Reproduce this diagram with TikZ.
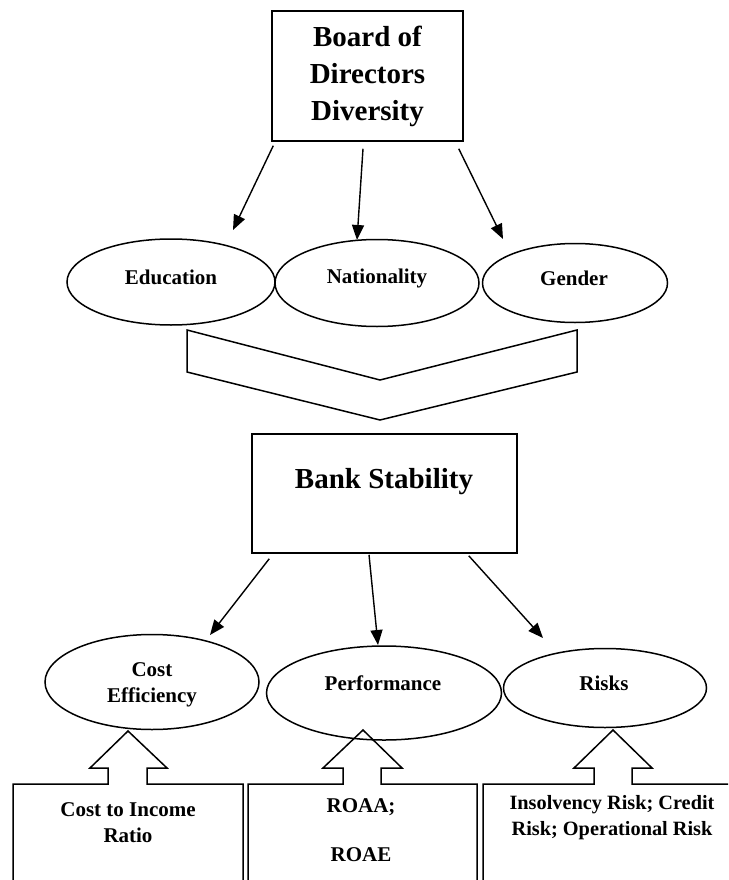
\documentclass[tikz,border=0pt]{standalone}
\usepackage{fontspec}
\setmainfont{Liberation Serif}
\usetikzlibrary{arrows.meta,shapes.geometric,calc}

\begin{document}
\begin{tikzpicture}[x=1pt,y=-1pt,
  line width=1.5pt,
  conn/.style={draw, line width=1.4pt, -{Triangle[length=15pt,width=12pt]}},
  ell/.style={draw, ellipse, inner sep=0pt},
  bigtxt/.style={font=\fontsize{29}{37}\selectfont\bfseries, align=center},
  txt/.style={font=\fontsize{21}{26}\selectfont\bfseries, align=center, inner sep=0pt},
  blockshape/.style={draw, line join=miter}
]
\useasboundingbox (0,0) rectangle (728,880);
\fill[white] (0,0) rectangle (728,880);
\clip (0,0) rectangle (728,880);

% top box
\node[draw, rectangle, minimum width=191pt, minimum height=130pt, bigtxt]
  (bod) at (367.5,76) {Board of\\Directors\\Diversity};

% diversity dimensions
\node[ell, minimum width=208pt, minimum height=86pt] (edu) at (171,282) {};
\node[ell, minimum width=204pt, minimum height=87pt] (nat) at (377,283) {};
\node[ell, minimum width=185pt, minimum height=79pt] (gen) at (575,283) {};
\node[txt] (edutxt) at (171,277) {Education};
\node[txt] (nattxt) at (377,278) {Nationality};
\node[txt] (gentxt) at (574,278) {Gender};

\coordinate (edutip) at (233,230);
\coordinate (nattip) at (357,240);
\coordinate (gentip) at (503,239);
\draw[conn] ([xshift=2pt,yshift=-4pt]bod.south west) -- (edutip);
\draw[conn] ([xshift=-4.5pt,yshift=-7pt]bod.south) -- (nattip);
\draw[conn] ([xshift=-5pt,yshift=-7pt]bod.south east) -- (gentip);

% chevron
\draw[blockshape] (187,330) -- (380,380) -- (577,330) -- (577,372)
  -- (380,420) -- (187,372) -- cycle;

% bank stability
\node[draw, rectangle, minimum width=265pt, minimum height=119pt] (bs) at (384.5,493.5) {};
\node[bigtxt, inner sep=0pt] (bstxt) at (384,482) {Bank Stability};

% stability dimensions
\node[ell, minimum width=214pt, minimum height=95pt] (cost) at (152,682) {};
\node[ell, minimum width=235pt, minimum height=94pt] (perf) at (384,693) {};
\node[ell, minimum width=203pt, minimum height=79pt] (risk) at (605,688) {};
\node[txt] (costtxt) at (152,685) {Cost\\Efficiency};
\node[txt] (perftxt) at (383,683) {Performance};
\node[txt] (risktxt) at (604,683) {Risks};

\coordinate (costtip) at (210,635);
\coordinate (perftip) at (378,645);
\coordinate (risktip) at (543,638);
\draw[conn] ([xshift=18pt,yshift=-5pt]bs.south west) -- (costtip);
\draw[conn] ([xshift=-15.5pt,yshift=-1pt]bs.south) -- (perftip);
\draw[conn] ([xshift=-49pt,yshift=-2pt]bs.south east) -- (risktip);

% measure boxes with upward block arrows
\draw[blockshape] (13,900) -- (13,784) -- (108,784) -- (108,768) -- (90,768)
  -- (128,731) -- (167,768) -- (147,768) -- (147,784) -- (243,784) -- (243,900);
\draw[blockshape] (248,900) -- (248,784) -- (343,784) -- (343,768) -- (323,768)
  -- (363,730) -- (402,768) -- (381,768) -- (381,784) -- (477,784) -- (477,900);
\draw[blockshape] (483,900) -- (483,784) -- (594,784) -- (594,768) -- (574,768)
  -- (613,730) -- (652,768) -- (632,768) -- (632,784) -- (740,784) -- (740,900);

\node[txt] (citxt) at (128,823) {Cost to Income\\Ratio};
\node[txt] (roaa) at (361,807) {ROAA;};
\node[txt] (roae) at (361,855) {ROAE};
\node[txt, font=\fontsize{20.3}{26}\selectfont\bfseries] (rsktxt) at (612,818)
  {Insolvency Risk; Credit\\Risk; Operational Risk};
\end{tikzpicture}
\end{document}
